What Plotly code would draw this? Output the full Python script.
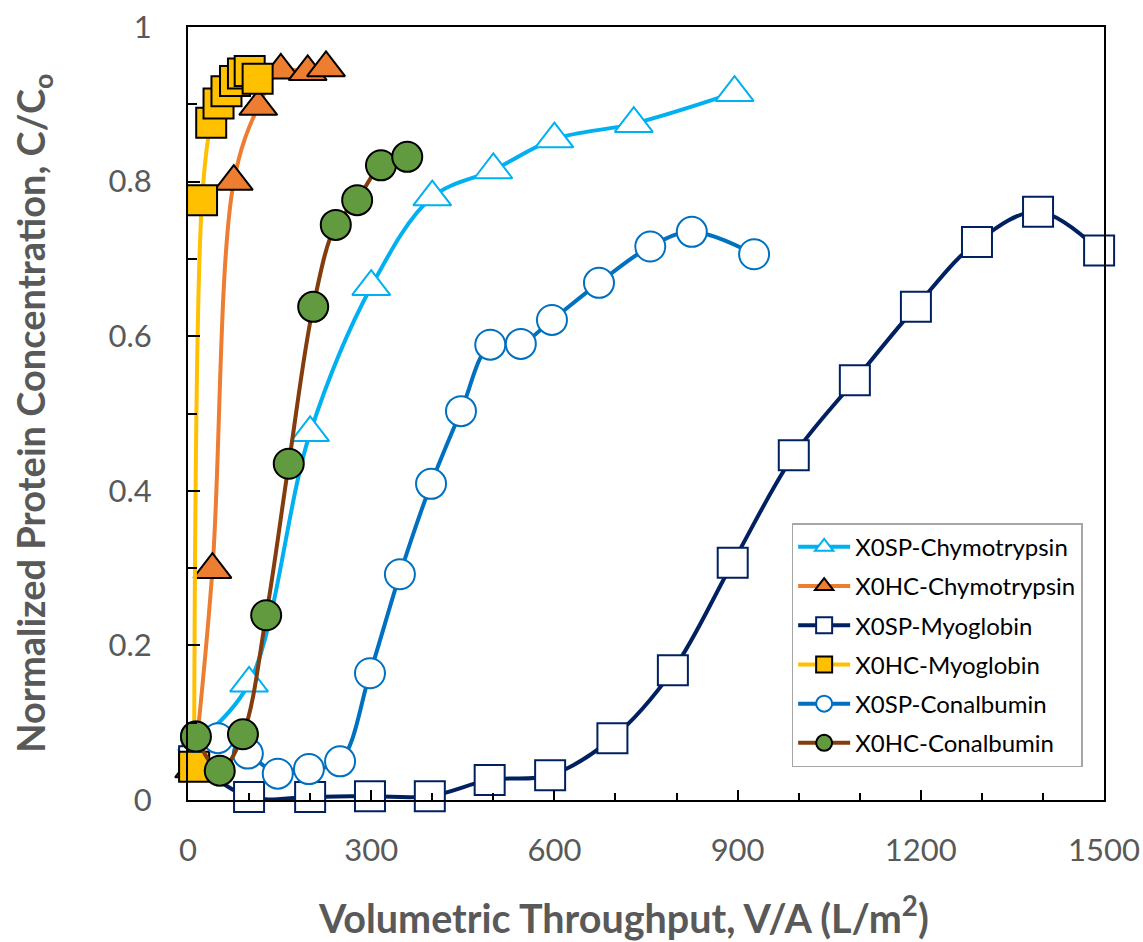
import plotly.graph_objects as go

# ---- data ----
sp_chymo_x = [15, 100, 200, 300, 400, 500, 600, 730, 895]
sp_chymo_y = [0.075, 0.151, 0.475, 0.664, 0.780, 0.815, 0.855, 0.875, 0.915]

hc_chymo_x = [10, 40, 75, 115, 152, 196, 226]
hc_chymo_y = [0.04, 0.298, 0.800, 0.897, 0.944, 0.942, 0.947]

sp_myo_x = [10, 100, 200, 298, 396, 494, 593, 695, 794, 892, 992, 1092, 1192, 1292, 1392, 1492]
sp_myo_y = [0.05, 0.004, 0.004, 0.005, 0.005, 0.026, 0.032, 0.080, 0.168, 0.307, 0.446, 0.543, 0.638, 0.722, 0.761, 0.711]

hc_myo_x = [10, 23, 38, 50, 63, 77, 90, 101, 114]
hc_myo_y = [0.043, 0.776, 0.876, 0.901, 0.917, 0.930, 0.940, 0.943, 0.933]

sp_conal_x = [13, 49, 98, 147, 198, 249, 298, 347, 398, 447, 495, 545, 596, 673, 757, 825, 927]
sp_conal_y = [0.082, 0.080, 0.060, 0.034, 0.040, 0.050, 0.164, 0.292, 0.409, 0.503, 0.589, 0.590, 0.621, 0.669, 0.716, 0.735, 0.706]

hc_conal_x = [13, 52, 90, 128, 165, 205, 242, 277, 316, 359]
hc_conal_y = [0.082, 0.038, 0.085, 0.239, 0.435, 0.638, 0.744, 0.776, 0.821, 0.832]

x_ticks = [0, 300, 600, 900, 1200, 1500]
y_ticks = [0, 0.2, 0.4, 0.6, 0.8, 1]
y_ticklabels = ["0", "0.2", "0.4", "0.6", "0.8", "1"]

FONT = "Lato"
GRAY = "#595959"

series = [
    ("X0SP-Chymotrypsin", sp_chymo_x, sp_chymo_y, "#00B0F0", "triangle-up", "white", "#00B0F0", 33),
    ("X0HC-Chymotrypsin", hc_chymo_x, hc_chymo_y, "#ED7D31", "triangle-up", "#ED7D31", "black", 33),
    ("X0SP-Myoglobin", sp_myo_x, sp_myo_y, "#002060", "square", "white", "#002060", 30),
    ("X0HC-Myoglobin", hc_myo_x, hc_myo_y, "#FFC000", "square", "#FFC000", "black", 30),
    ("X0SP-Conalbumin", sp_conal_x, sp_conal_y, "#0070C0", "circle", "white", "#0070C0", 30),
    ("X0HC-Conalbumin", hc_conal_x, hc_conal_y, "#843C0C", "circle", "#629B3F", "black", 30),
]

fig = go.Figure()
for i, (name, xs, ys, lc, sym, fc, mlc, ms) in enumerate(series):
    fig.add_trace(go.Scatter(
        x=xs, y=ys, name=name, mode="lines+markers",
        line=dict(color=lc, width=4, shape="spline", smoothing=1.0),
        marker=dict(symbol=sym, size=ms, color=fc, line=dict(color=mlc, width=2)),
        legendgroup=f"g{i}", cliponaxis=False,
    ))

fig.update_layout(
    width=1143, height=942,
    margin=dict(l=188, r=39, t=27, b=142, autoexpand=False),
    plot_bgcolor="white", paper_bgcolor="white",
    font=dict(family=FONT, color=GRAY),
    showlegend=True,
    legend=dict(
        x=0.659, y=0.358, xanchor="left", yanchor="top",
        bgcolor="white", bordercolor="#A6A6A6", borderwidth=1.5,
        font=dict(family=FONT, size=24, color="black"),
        tracegroupgap=5, traceorder="grouped",
        itemwidth=52, entrywidth=200, entrywidthmode="pixels",
    ),
    xaxis=dict(
        range=[0, 1500], tickvals=x_ticks, ticks="inside", ticklen=10, tickwidth=2,
        tickcolor="black", showline=True, linecolor="black", linewidth=2, mirror=True,
        showgrid=False, zeroline=False,
        tickfont=dict(family=FONT, size=31, color=GRAY), ticklabelstandoff=22,
        minor=dict(dtick=100, ticks="inside", ticklen=7, tickwidth=2, tickcolor="black", showgrid=False),
    ),
    yaxis=dict(
        range=[0, 1], tickvals=y_ticks, ticktext=y_ticklabels, ticks="inside", ticklen=12, tickwidth=2,
        tickcolor="black", showline=True, linecolor="black", linewidth=2, mirror=True,
        showgrid=False, zeroline=False,
        tickfont=dict(family=FONT, size=31, color=GRAY), ticklabelstandoff=28,
        minor=dict(dtick=0.1, ticks="inside", ticklen=9, tickwidth=2, tickcolor="black", showgrid=False),
    ),
    annotations=[
        dict(text="<b>Volumetric Throughput, V/A (L/m<sup>2</sup>)</b>", xref="paper", yref="paper",
             x=0.475, y=-0.149, xanchor="center", yanchor="middle", showarrow=False,
             font=dict(family=FONT, size=39.5, color=GRAY)),
        dict(text="<b>Normalized Protein Concentration, C/C<sub>o</sub></b>", xref="paper", yref="paper",
             x=-0.170, y=0.50, xanchor="center", yanchor="middle", textangle=-90, showarrow=False,
             font=dict(family=FONT, size=38, color=GRAY)),
    ],
)

fig.write_html("out.html", config={"displayModeBar": False},
               post_script="document.body.style.margin='0px';")
